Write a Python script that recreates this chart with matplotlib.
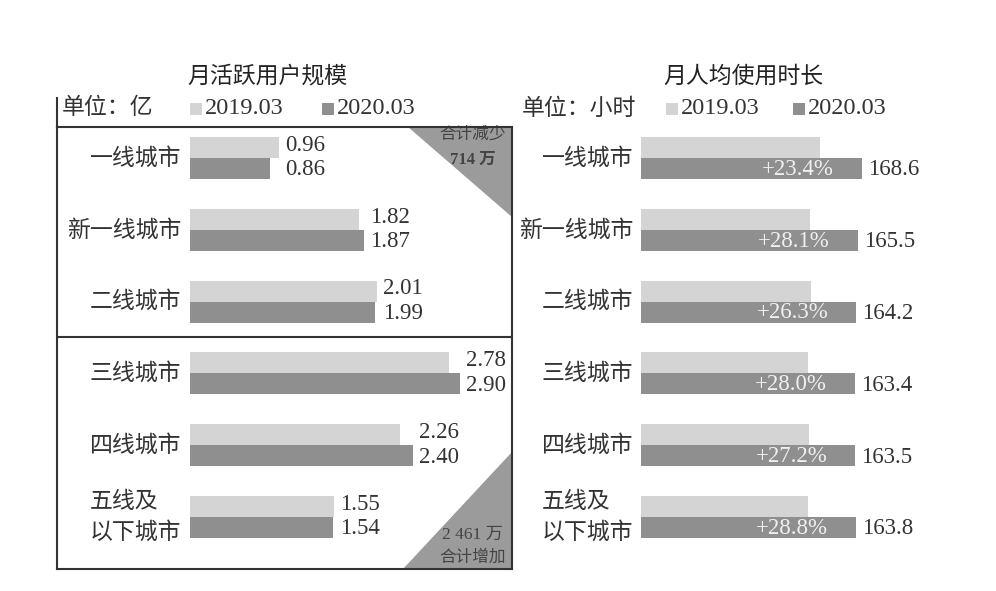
import matplotlib
matplotlib.use("Agg")
import matplotlib.pyplot as plt
from matplotlib.patches import Polygon, Rectangle
from matplotlib.lines import Line2D

# Datos -------------------------------------------------------------------
cities = ["一线城市", "新一线城市", "二线城市", "三线城市", "四线城市", "五线及\n以下城市"]
users_2019 = [0.96, 1.82, 2.01, 2.78, 2.26, 1.55]
users_2020 = [0.86, 1.87, 1.99, 2.90, 2.40, 1.54]
hours_2019 = [136.6, 129.2, 130.0, 127.7, 128.5, 127.2]
hours_2020 = [168.6, 165.5, 164.2, 163.4, 163.5, 163.8]
growth = ["+23.4%", "+28.1%", "+26.3%", "+28.0%", "+27.2%", "+28.8%"]
legend_labels = ["2019.03", "2020.03"]

LIGHT = "#d4d4d4"
DARK = "#8f8f8f"
TRI = "#9b9b9b"
TXT = "#333333"
CJK = ["Noto Sans CJK SC", "DejaVu Sans"]
NUM = ["Liberation Serif", "Noto Sans CJK SC"]

W, H = 996, 591


def fx(x):
    return x / W


def fy(y):
    return 1 - y / H


def box(x0, x1, y0, y1):
    # pixel box -> [left, bottom, width, height] en fraccion de figura
    return [fx(x0), fy(y1), fx(x1) - fx(x0), fy(y0) - fy(y1)]


fig = plt.figure(figsize=(W / 100, H / 100), dpi=100)

# Geometria vertical comun: filas cada 71.8 px, la primera en y=158
ROW0, ROWSTEP, TOP, BOT = 158, 71.8, 127, 569
ylim = ((BOT - ROW0) / ROWSTEP, -(ROW0 - TOP) / ROWSTEP)
bh = 21 / ROWSTEP


# Panel izquierdo ---------------------------------------------------------
axl = fig.add_axes(box(57, 512, TOP, BOT))
sc = 93.0  # px por unidad
axl.set_xlim(-(190 - 57) / sc, (512 - 190) / sc)
axl.set_ylim(*ylim)
for i, (a, b) in enumerate(zip(users_2019, users_2020)):
    axl.barh(i - bh / 2, a, height=bh, color=LIGHT, zorder=2)
    axl.barh(i + bh / 2, b, height=bh, color=DARK, zorder=2)
    xt = max(a, b) + 6 / sc
    axl.text(xt, i - bh / 2 - 0.03, f"{a:.2f}", ha="left", va="center",
             fontsize=16.5, family=NUM, color=TXT)
    axl.text(xt, i + bh / 2 + 0.02, f"{b:.2f}", ha="left", va="center",
             fontsize=16.5, family=NUM, color=TXT)
    axl.text(-9 / sc, i, cities[i], ha="right", va="center", fontsize=16.5,
             family=CJK, color=TXT, multialignment="left", linespacing=1.45)
axl.axhline(2.5, color="#333333", lw=1.5, zorder=3)
axl.set_xticks([])
axl.set_yticks([])
for s in axl.spines.values():
    s.set_color("#333333")
    s.set_linewidth(1.5)
    s.set_zorder(4)

# triangulos de esquina
axl.add_patch(Polygon([[0.771, 1], [1, 1], [1, 0.796]], closed=True,
                      transform=axl.transAxes, color=TRI, lw=0, zorder=1))
axl.add_patch(Polygon([[1, 0.265], [1, 0], [0.760, 0]], closed=True,
                      transform=axl.transAxes, color=TRI, lw=0, zorder=1))
axl.text(0.914, 0.983, "合计减少", transform=axl.transAxes, ha="center",
         va="center", fontsize=12, family=CJK, color="#444444", zorder=2)
axl.text(0.914, 0.925, "714 万", transform=axl.transAxes, ha="center",
         va="center", fontsize=12, family=NUM, color="#444444",
         weight="bold", zorder=2)
axl.text(0.914, 0.077, "2 461 万", transform=axl.transAxes, ha="center",
         va="center", fontsize=12.5, family=NUM, color="#444444", zorder=2)
axl.text(0.914, 0.026, "合计增加", transform=axl.transAxes, ha="center",
         va="center", fontsize=12, family=CJK, color="#444444", zorder=2)

# Panel derecho -----------------------------------------------------------
axr = fig.add_axes(box(520, 990, TOP, BOT))
scr = 221 / 168.6
axr.set_xlim(-(641 - 520) / scr, (990 - 641) / scr)
axr.set_ylim(*ylim)
for i, (a, b) in enumerate(zip(hours_2019, hours_2020)):
    axr.barh(i - bh / 2, a, height=bh, color=LIGHT)
    axr.barh(i + bh / 2, b, height=bh, color=DARK)
    axr.text(b - 28 / scr, i + bh / 2 + 0.01, growth[i], ha="right",
             va="center", fontsize=16.5, family=NUM, color="#f0f0f0")
    axr.text(b + 6 / scr, i + bh / 2 + 0.02, f"{b:.1f}", ha="left",
             va="center", fontsize=16.5, family=NUM, color=TXT)
    axr.text(-8 / scr, i, cities[i], ha="right", va="center", fontsize=16.5,
             family=CJK, color=TXT, multialignment="left", linespacing=1.45)
axr.axis("off")

# Titulos, unidades y leyendas ------------------------------------------
fig.text(fx(267), fy(76), "月活跃用户规模", ha="center", va="center",
         fontsize=16.5, family=CJK, color="#222222")
fig.text(fx(743), fy(76), "月人均使用时长", ha="center", va="center",
         fontsize=16.5, family=CJK, color="#222222")
fig.text(fx(62), fy(108), "单位：亿", ha="left", va="center",
         fontsize=16.5, family=CJK, color=TXT)
fig.text(fx(522), fy(108), "单位：小时", ha="left", va="center",
         fontsize=16.5, family=CJK, color=TXT)
fig.add_artist(Line2D([fx(57), fx(57)], [fy(98), fy(127)],
                      color="#333333", lw=1.5))

legend_pos = [(190, 322), (666, 793)]
for xs in legend_pos:
    for x0, col, lab in zip(xs, [LIGHT, DARK], legend_labels):
        fig.add_artist(Rectangle((fx(x0), fy(115)), fx(12), fy(103) - fy(115),
                                 transform=fig.transFigure, color=col, lw=0))
        fig.text(fx(x0 + 15), fy(108), lab, ha="left", va="center",
                 fontsize=17.5, family=NUM, color=TXT)

fig.savefig("out.png", dpi=100, facecolor="white")
